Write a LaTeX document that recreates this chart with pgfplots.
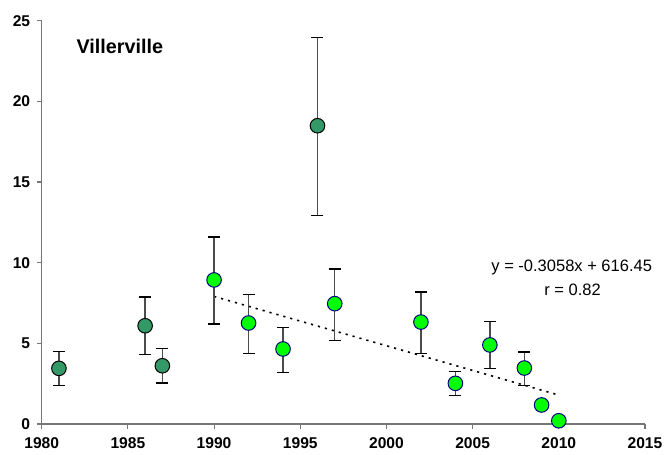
\documentclass[border=0pt]{standalone}
\usepackage{fontspec}
\setmainfont{Liberation Sans}
\usepackage{pgfplots}
\pgfplotsset{compat=1.18}
\usepackage{pgfplotstable}

\definecolor{darkpt}{HTML}{339966}
\definecolor{brightpt}{HTML}{00FF00}
\definecolor{navyedge}{HTML}{000080}
\definecolor{axisgray}{HTML}{767676}

% year, mean, error up, error down
\pgfplotstableread{
x    y      ep    em
1981 3.45   1.03  1.08
1986 6.09   1.78  1.79
1987 3.61   1.08  1.07
1996 18.49  5.48  5.55
}\earlydata

\pgfplotstableread{
x    y      ep    em
1990 8.93   2.66  2.73
1992 6.26   1.78  1.90
1994 4.65   1.32  1.47
1997 7.46   2.15  2.30
2002 6.32   1.86  1.96
2004 2.52   0.75  0.77
2006 4.90   1.47  1.47
2008 3.47   0.99  1.10
2009 1.18   0.00  0.00
2010 0.20   0.00  0.00
}\recentdata

\pgfplotsset{
  % whiskers only, drawn beneath the markers
  whiskers/.style={
    only marks, mark=none,
    error bars/.cd, y dir=both, y explicit,
    error bar style={black!70, line width=1.4pt, solid},
    error mark options={rotate=90, mark size=6pt, black, line width=1.4pt},
  },
  dots/.style 2 args={
    only marks, mark=*, mark size=7.3pt,
    mark options={fill=#1, draw=#2, line width=1pt, solid},
  },
}

\begin{document}
\begin{tikzpicture}
\begin{axis}[
  name=ax,
  scale only axis,
  width=603.3pt, height=403.3pt,
  xmin=1980, xmax=2015, ymin=0, ymax=25,
  xtick={1980,1985,1990,1995,2000,2005,2010,2015},
  xticklabels={1980,1985,1990,1995,2000,2005,2010,2015},
  ytick={0,5,10,15,20,25},
  yticklabels={0,5,10,15,20,25},
  axis x line*=bottom, axis y line*=left,
  axis line style={axisgray, line width=1.3pt},
  tick align=outside,
  major tick length=5pt,
  tick style={axisgray, line width=1.1pt},
  minor tick num=0,
  ticklabel style={font=\fontsize{15.6}{18}\selectfont\bfseries},
  xticklabel style={yshift=-5pt},
  yticklabel style={xshift=-3pt},
  clip=false,
]
% fitted trend over 1990-2010: y = -0.3058x + 616.45
\addplot[black, line width=1.6pt, dash pattern=on 2.2pt off 5pt]
  coordinates {(1990,7.908) (2010,1.792)};

\addplot[whiskers]
  table[x=x, y=y, y error plus=ep, y error minus=em] {\earlydata};
\addplot[whiskers]
  table[x=x, y=y, y error plus=ep, y error minus=em] {\recentdata};

\addplot[dots={darkpt}{black}] table[x=x, y=y] {\earlydata};
\addplot[dots={brightpt}{navyedge}] table[x=x, y=y] {\recentdata};

\node[anchor=west, font=\fontsize{19.8}{22}\selectfont\bfseries]
  at (axis description cs:0.052,0.9355) {Villerville};
\node[font=\fontsize{16.5}{19}\selectfont]
  at (axis description cs:0.8785,0.387) {y = -0.3058x + 616.45};
\node[font=\fontsize{16.5}{19}\selectfont]
  at (axis description cs:0.88,0.3325) {r = 0.82};
\end{axis}
\pgfresetboundingbox
\path (ax.south west) ++(-41.7pt,-31pt) rectangle ++(664pt,455pt);
\end{tikzpicture}
\end{document}
